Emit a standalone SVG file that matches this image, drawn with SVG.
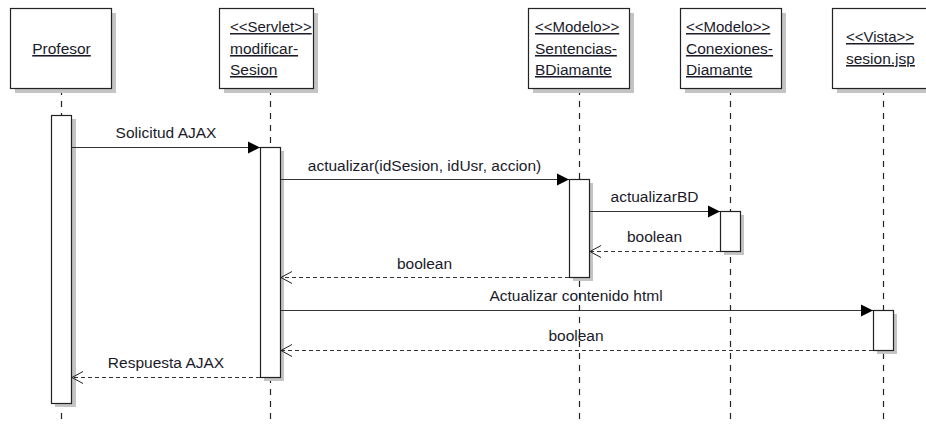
<svg xmlns="http://www.w3.org/2000/svg" width="926" height="425" viewBox="0 0 926 425">
<defs>
<marker id="filled" markerWidth="13" markerHeight="13" refX="12" refY="6.5" orient="auto" markerUnits="userSpaceOnUse">
<path d="M0,0.5 L12,6.5 L0,12.5 Z" fill="#000"/>
</marker>
<marker id="open" markerWidth="14" markerHeight="14" refX="11" refY="7" orient="auto" markerUnits="userSpaceOnUse">
<path d="M0,1 L11,7 L0,13" fill="none" stroke="#222" stroke-width="1"/>
</marker>
</defs>
<style>
.box{fill:#fff;stroke:#222;stroke-width:1.2}
.shadow{fill:#c4c4c4}
.life{stroke:#222;stroke-width:1.2;stroke-dasharray:6 6;fill:none}
.act{fill:#fff;stroke:#222;stroke-width:1.2}
.lbl{font-family:"Liberation Sans",Arial,sans-serif;font-size:15.5px;fill:#1a1a2a;text-decoration:underline}
.st{font-size:15px}
.msg{font-family:"Liberation Sans",Arial,sans-serif;font-size:15.5px;fill:#1a1a2a;text-anchor:middle}
.call{stroke:#333;stroke-width:1.2;fill:none;marker-end:url(#filled)}
.ret{stroke:#333;stroke-width:1.2;fill:none;stroke-dasharray:4 3;marker-end:url(#open)}
</style>
<rect width="926" height="425" fill="#fff"/>

<g id="lifelines">
<line class="life" x1="61.5" y1="89" x2="61.5" y2="425"/>
<line class="life" x1="270.5" y1="89" x2="270.5" y2="425"/>
<line class="life" x1="579.5" y1="89" x2="579.5" y2="425"/>
<line class="life" x1="730.5" y1="89" x2="730.5" y2="425"/>
<line class="life" x1="883.5" y1="89" x2="883.5" y2="425"/>
</g>

<g id="profesor">
<rect class="shadow" x="15" y="13" width="101" height="80"/>
<rect class="box" x="10.5" y="8.5" width="101" height="80"/>
<text class="lbl" x="61.5" y="54" text-anchor="middle">Profesor</text>
</g>

<g id="modificarSesion">
<rect class="shadow" x="224" y="13" width="94" height="80"/>
<rect class="box" x="219.5" y="8.5" width="94" height="80"/>
<text class="lbl st" x="230" y="32">&lt;&lt;Servlet&gt;&gt;</text>
<text class="lbl" x="230" y="54">modificar-</text>
<text class="lbl" x="230" y="75">Sesion</text>
</g>

<g id="sentencias">
<rect class="shadow" x="533" y="13" width="101" height="80"/>
<rect class="box" x="528.5" y="8.5" width="101" height="80"/>
<text class="lbl st" x="535" y="32">&lt;&lt;Modelo&gt;&gt;</text>
<text class="lbl" x="535" y="54">Sentencias-</text>
<text class="lbl" x="535" y="75">BDiamante</text>
</g>

<g id="conexiones">
<rect class="shadow" x="685" y="13" width="101" height="80"/>
<rect class="box" x="680.5" y="8.5" width="101" height="80"/>
<text class="lbl st" x="686" y="32">&lt;&lt;Modelo&gt;&gt;</text>
<text class="lbl" x="686" y="54">Conexiones-</text>
<text class="lbl" x="686" y="75">Diamante</text>
</g>

<g id="sesionjsp">
<rect class="shadow" x="837" y="13" width="102" height="80"/>
<rect class="box" x="832.5" y="8.5" width="102" height="80"/>
<text class="lbl st" x="846" y="42">&lt;&lt;Vista&gt;&gt;</text>
<text class="lbl" x="846" y="64">sesion.jsp</text>
</g>

<g id="activations">
<rect class="shadow" x="55" y="119" width="21" height="288"/>
<rect class="act" x="51.5" y="115.5" width="20" height="288"/>
<rect class="shadow" x="264" y="151" width="20" height="230"/>
<rect class="act" x="260.5" y="147.5" width="20" height="230"/>
<rect class="shadow" x="573" y="183" width="20" height="98"/>
<rect class="act" x="569.5" y="179.5" width="20" height="98"/>
<rect class="shadow" x="724" y="215" width="20" height="40"/>
<rect class="act" x="720.5" y="211.5" width="20" height="40"/>
<rect class="shadow" x="877" y="314" width="20" height="40"/>
<rect class="act" x="873.5" y="310.5" width="20" height="40"/>
</g>

<g id="connectors">
<line class="call" x1="72" y1="147.5" x2="260" y2="147.5"/>
<text class="msg" x="166" y="138">Solicitud AJAX</text>
<line class="call" x1="281" y1="179.5" x2="569" y2="179.5"/>
<text class="msg" x="424.5" y="171">actualizar(idSesion, idUsr, accion)</text>
<line class="call" x1="590" y1="211.5" x2="720" y2="211.5"/>
<text class="msg" x="654.5" y="202">actualizarBD</text>
<line class="ret" x1="720" y1="251.5" x2="590" y2="251.5"/>
<text class="msg" x="654.5" y="242">boolean</text>
<line class="ret" x1="569" y1="277.5" x2="281" y2="277.5"/>
<text class="msg" x="424.5" y="269">boolean</text>
<line class="call" x1="281" y1="310.5" x2="873" y2="310.5"/>
<text class="msg" x="576" y="301">Actualizar contenido html</text>
<line class="ret" x1="873" y1="350.5" x2="281" y2="350.5"/>
<text class="msg" x="576" y="341">boolean</text>
<line class="ret" x1="260" y1="377.5" x2="72" y2="377.5"/>
<text class="msg" x="166" y="368">Respuesta AJAX</text>
</g>
</svg>
